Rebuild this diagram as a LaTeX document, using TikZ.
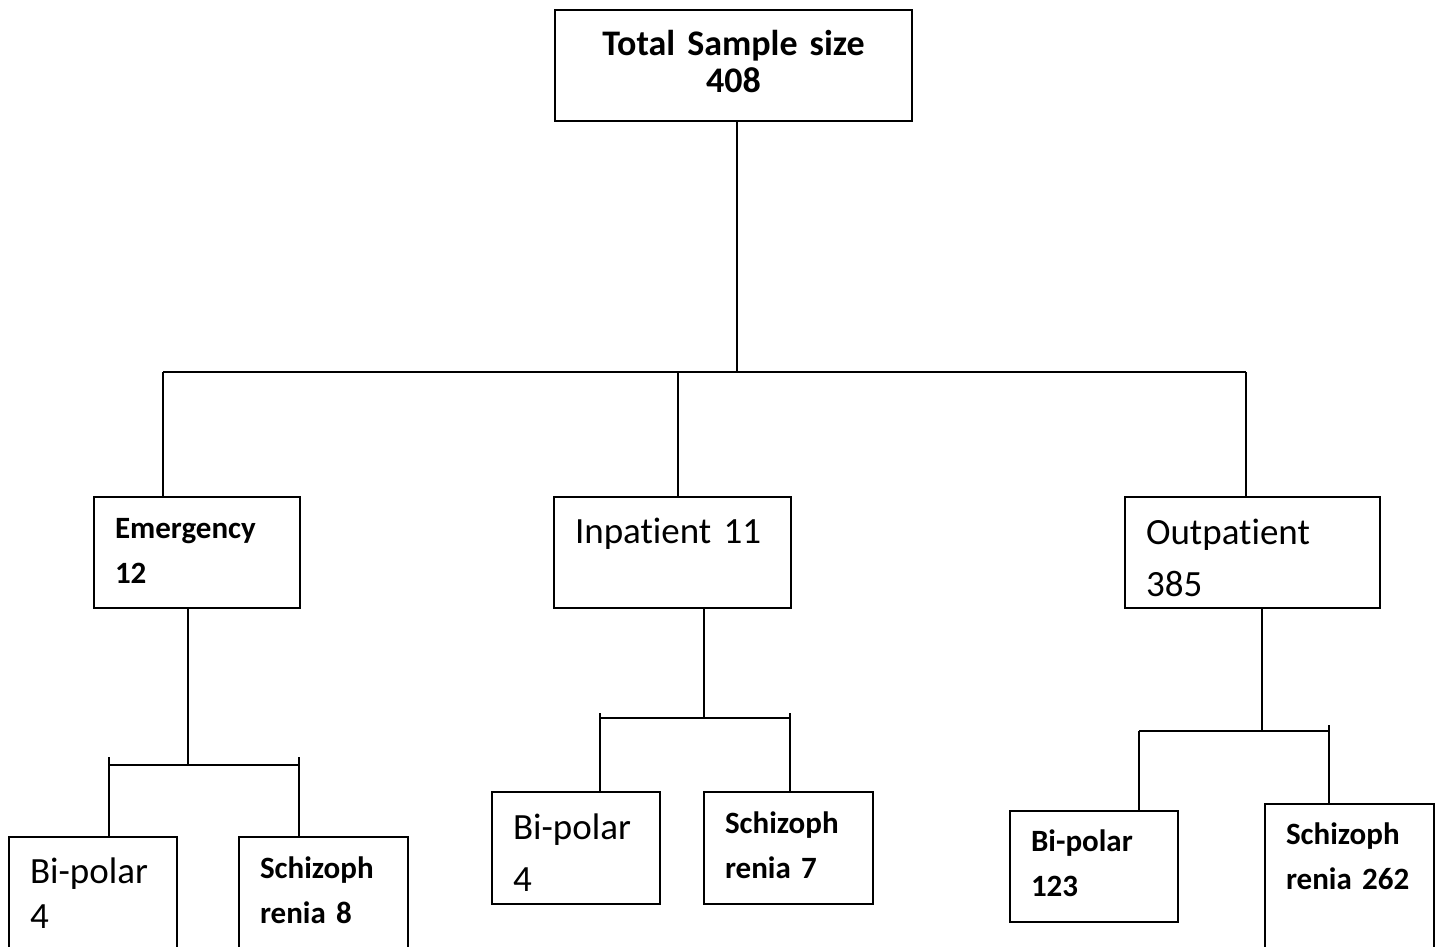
\documentclass[tikz,border=0pt]{standalone}
\usepackage{fontspec}
\setmainfont{Carlito}[Ligatures = NoCommon]
\usepackage{tikz}

\begin{document}
\begin{tikzpicture}[x = 1pt, y = -1pt, line width = 2pt,
        box/.style = {draw, anchor = north west, inner xsep = 21pt, inner ysep = 0pt, align = left},
        boldtxt/.style = {font = \fontsize{31}{45}\selectfont\bfseries},
        plaintxt/.style = {font = \fontsize{37}{52}\selectfont}]
        \path[use as bounding box, clip] (0,0) rectangle (1441,947);

        \node[box, align = center, text width = 315pt, text height = 46pt, text depth = 65pt,
              font = \fontsize{36}{37}\selectfont\bfseries] (total) at (554,9) {Total Sample size\\408};

        \node[box, boldtxt, text width = 164pt, text height = 41pt, text depth = 70pt] (emerg) at (93,496) {Emergency\\12};
        \node[box, plaintxt, text width = 195pt, text height = 46pt, text depth = 65pt] (inpat) at (553,496) {Inpatient 11};
        \node[box, plaintxt, text width = 213pt, text height = 47pt, text depth = 64pt] (outpat) at (1124,496) {Outpatient\\385};

        \node[box, plaintxt, font = \fontsize{37}{45}\selectfont, text width = 126pt, text height = 46pt, text depth = 74pt] (bp1) at (8,836) {Bi-polar\\4};
        \node[box, boldtxt, text width = 127pt, text height = 41pt, text depth = 79pt] (sz1) at (238,836) {Schizoph\\renia 8};
        \node[box, plaintxt, text width = 126pt, text height = 47pt, text depth = 65pt] (bp2) at (491,791) {Bi-polar\\4};
        \node[box, boldtxt, text width = 127pt, text height = 41pt, text depth = 71pt] (sz2) at (703,791) {Schizoph\\renia 7};
        \node[box, boldtxt, text width = 126pt, text height = 40pt, text depth = 71pt] (bp3) at (1009,810) {Bi-polar\\123};
        \node[box, boldtxt, text width = 127pt, text height = 40pt, text depth = 120pt] (sz3) at (1264,803) {Schizoph\\renia 262};

        \coordinate (bus) at (737,372);
        \coordinate (busL) at (163,372);
        \coordinate (busM) at (678,372);
        \coordinate (busR) at (1246,372);
        \draw (total.south -| bus) -- (bus);
        \draw (busL) -- (busR);
        \draw (busL) -- (busL |- emerg.north);
        \draw (busM) -- (busM |- inpat.north);
        \draw (busR) -- (busR |- outpat.north);

        \coordinate (e0) at (188,765);
        \coordinate (e1) at (109,757);
        \coordinate (e2) at (299,757);
        \draw (e0 |- emerg.south) -- (e0);
        \draw (e1 |- e0) -- (e2 |- e0);
        \draw (e1) -- (e1 |- bp1.north);
        \draw (e2) -- (e2 |- sz1.north);

        \coordinate (i0) at (704,718);
        \coordinate (i1) at (600,713);
        \coordinate (i2) at (790,713);
        \draw (i0 |- inpat.south) -- (i0);
        \draw (i1 |- i0) -- (i2 |- i0);
        \draw (i1) -- (i1 |- bp2.north);
        \draw (i2) -- (i2 |- sz2.north);

        \coordinate (o0) at (1262,731);
        \coordinate (o1) at (1139,731);
        \coordinate (o2) at (1329,725);
        \draw (o0 |- outpat.south) -- (o0);
        \draw (o1) -- (o2 |- o0);
        \draw (o1) -- (o1 |- bp3.north);
        \draw (o2) -- (o2 |- sz3.north);
\end{tikzpicture}
\end{document}
